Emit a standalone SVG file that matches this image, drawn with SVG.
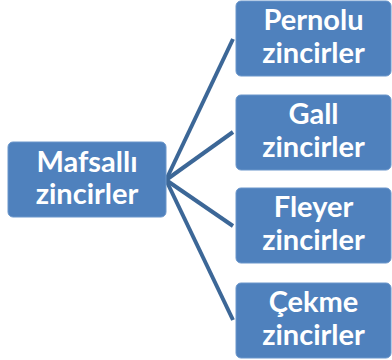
<svg xmlns="http://www.w3.org/2000/svg" width="392" height="360" viewBox="0 0 392 360">
  <style>
    .box { fill: #4F81BD; stroke: #6A96CB; stroke-width: 1; }
    .lbl { font-family: Lato, "Open Sans", "Liberation Sans", sans-serif; font-weight: bold; font-size: 29px; fill: #FFFFFF; text-anchor: middle; }
    .link { stroke: #3C6797; stroke-width: 4; fill: none; stroke-linecap: butt; }
  </style>
  <rect width="392" height="360" fill="#FFFFFF"/>

  <!-- connectors from the root to each branch -->
  <g id="connectors">
    <line class="link" x1="166" y1="180" x2="233" y2="39"/>
    <line class="link" x1="166" y1="180" x2="233" y2="132"/>
    <line class="link" x1="166" y1="180" x2="233" y2="226"/>
    <line class="link" x1="166" y1="180" x2="233" y2="320"/>
  </g>

  <g id="node-root">
    <rect class="box" x="8" y="142" width="158" height="75" rx="5"/>
    <text class="lbl" x="87" y="172">Mafsallı</text>
    <text class="lbl" x="87" y="204">zincirler</text>
  </g>

  <g id="node-pernolu">
    <rect class="box" x="236" y="1" width="155" height="75" rx="5"/>
    <text class="lbl" x="313.5" y="30">Pernolu</text>
    <text class="lbl" x="313.5" y="63">zincirler</text>
  </g>

  <g id="node-gall">
    <rect class="box" x="236" y="95" width="155" height="75" rx="5"/>
    <text class="lbl" x="313.5" y="124">Gall</text>
    <text class="lbl" x="313.5" y="157">zincirler</text>
  </g>

  <g id="node-fleyer">
    <rect class="box" x="236" y="188" width="155" height="75" rx="5"/>
    <text class="lbl" x="313.5" y="217">Fleyer</text>
    <text class="lbl" x="313.5" y="250">zincirler</text>
  </g>

  <g id="node-cekme">
    <rect class="box" x="236" y="283" width="155" height="75" rx="5"/>
    <text class="lbl" x="313.5" y="312">Çekme</text>
    <text class="lbl" x="313.5" y="345">zincirler</text>
  </g>
</svg>
